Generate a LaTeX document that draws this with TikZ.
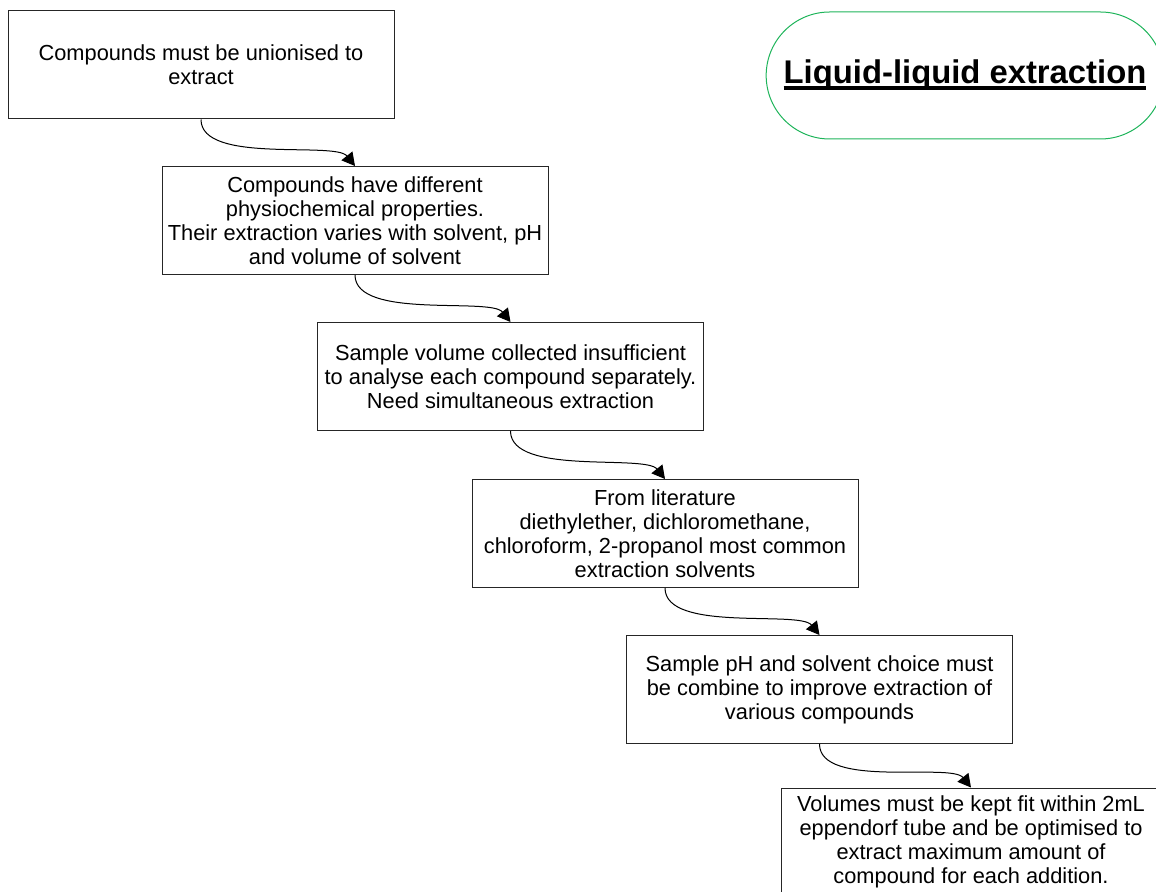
\documentclass[tikz,border=0pt]{standalone}
\usepackage{fontspec}
\setmainfont{Liberation Sans}
\usetikzlibrary{arrows.meta, shapes.misc}

\definecolor{titlegreen}{RGB}{30,180,90}
% thick underline close to the baseline
\newcommand{\thickul}[1]{\setbox0\hbox{#1}\rlap{\rule[-2.9pt]{\wd0}{1.7pt}}\box0}

\begin{document}
\begin{tikzpicture}[
			x=0.5pt, y=-0.5pt,
			% Style for the step boxes
			stepbox/.style={
				draw=black!85, line width=0.5pt, rectangle, align=center,
				minimum width=193pt, minimum height=54pt, inner sep=2pt,
				font=\fontsize{10.9pt}{12pt}\selectfont
			},
			% Style for the curved connectors
			flow/.style={-{Triangle[length=6.5pt, width=7pt]}, line width=0.5pt, black},
			% Title
			mainTitle/.style={
				rounded rectangle, draw=titlegreen, line width=0.5pt,
				minimum width=205.5pt, minimum height=63.5pt,
				font=\fontsize{16.4pt}{19pt}\selectfont\bfseries
			}
			]
			\useasboundingbox (0,0) rectangle (1156,892);
			
			% ==============================================================================
			% TITLE
			% ==============================================================================
			\node[mainTitle] (title) at (965, 75.5) {\thickul{Liquid-liquid extraction}};
			
			% ==============================================================================
			% STEPS
			% ==============================================================================
			\node[stepbox] (s1) at (201, 65) {Compounds must be unionised to\\extract};
			\node[stepbox] (s2) at (355, 220.5) {
				Compounds have different\\
				physiochemical properties.\\
				Their extraction varies with solvent, pH\\
				and volume of solvent
			};
			\node[stepbox] (s3) at (510.5, 376.5) {
				Sample volume collected insufficient\\
				to analyse each compound separately.\\
				Need simultaneous extraction
			};
			\node[stepbox] (s4) at (665, 533.5) {
				From literature\\
				diethylether, dichloromethane,\\
				chloroform, 2-propanol most common\\
				extraction solvents
			};
			\node[stepbox] (s5) at (819.5, 689.5) {
				Sample pH and solvent choice must\\
				be combine to improve extraction of\\
				various compounds
			};
			\node[stepbox, minimum width=190pt] (s6) at (971, 842) {
				Volumes must be kept fit within 2mL\\
				eppendorf tube and be optimised to\\
				extract maximum amount of\\
				compound for each addition.
			};
			
			% ==============================================================================
			% CONNECTORS
			% ==============================================================================
			\draw[flow] (s1.south) .. controls +(0,45) and +(-20,-25) .. (s2.north);
			\draw[flow] (s2.south) .. controls +(0,45) and +(-20,-25) .. (s3.north);
			\draw[flow] (s3.south) .. controls +(0,45) and +(-20,-25) .. (s4.north);
			\draw[flow] (s4.south) .. controls +(0,45) and +(-20,-25) .. (s5.north);
			\draw[flow] (s5.south) .. controls +(0,45) and +(-20,-25) .. (s6.north);
			
		\end{tikzpicture}
\end{document}
